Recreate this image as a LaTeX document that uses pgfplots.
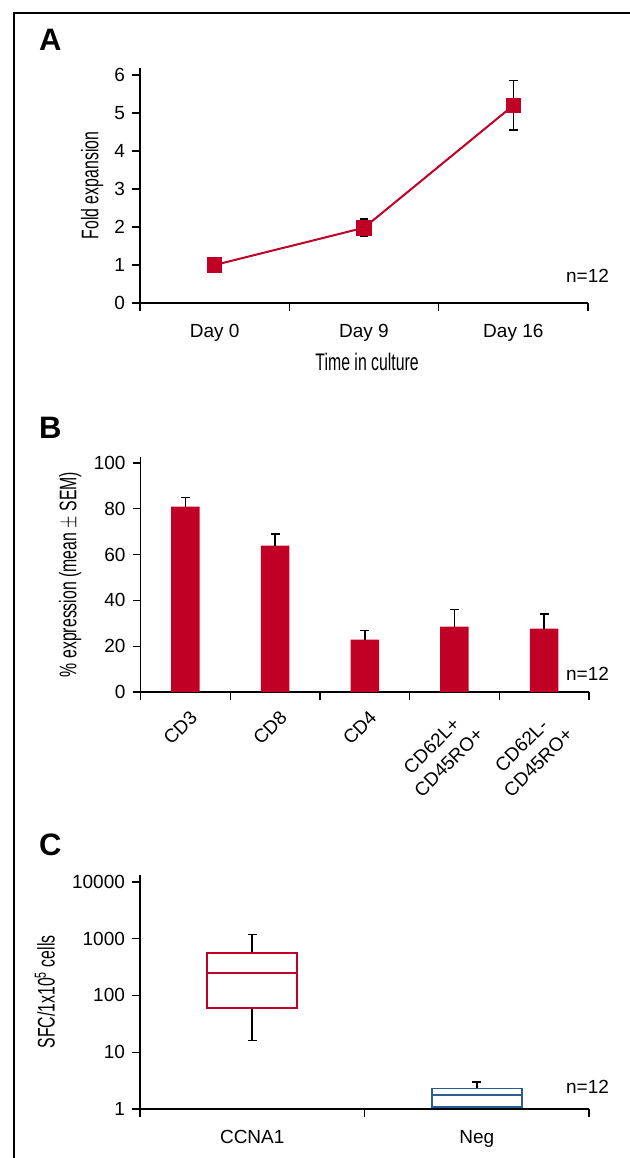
\documentclass[border=0pt]{standalone}
\usepackage{pgfplots}
\pgfplotsset{compat=1.18}
\usepackage{fontspec}
\setmainfont{Liberation Sans}
\definecolor{cred}{RGB}{192,0,37}
\definecolor{cblue}{RGB}{43,92,148}
\newcommand{\cond}[1]{\scalebox{0.66}[1]{#1}}
\pgfplotsset{
  panel/.style={
    scale only axis,
    axis lines=left,
    axis line style={line width=0.8pt,-},
    tick style={line width=0.7pt,black},
    tick align=outside,
    major tick length=4pt,
    minor tick length=4pt,
    major x tick style={draw=none},
    ticklabel style={font=\fontsize{9.5}{11}\selectfont},
    xticklabel style={yshift=-3pt},
    /pgf/number format/assume math mode=true,
    xtick pos=bottom, ytick pos=left,
    clip=false,
    label style={font=\fontsize{12}{14}\selectfont},
  },
}
\begin{document}
\begin{tikzpicture}
\path[use as bounding box] (0,0) rectangle (314.5pt,-579pt);
\draw[line width=1pt] (7pt,-580pt) -- (7pt,-6.5pt) -- (315pt,-6.5pt);
\node[anchor=base west,font=\bfseries\fontsize{15.5}{17}\selectfont] at (16pt,-25pt) {A};
\node[anchor=base west,font=\bfseries\fontsize{15.5}{17}\selectfont] at (16pt,-219pt) {B};
\node[anchor=base west,font=\bfseries\fontsize{15.5}{17}\selectfont] at (16pt,-427.5pt) {C};
\node[anchor=base east,font=\fontsize{9.5}{11}\selectfont] at (308pt,-141pt) {n=12};
\node[anchor=base east,font=\fontsize{9.5}{11}\selectfont] at (308pt,-340pt) {n=12};
\node[anchor=base east,font=\fontsize{9.5}{11}\selectfont] at (308pt,-546.5pt) {n=12};

% Panel A
\begin{axis}[panel,
  at={(70pt,-151.5pt)}, anchor=south west,
  width=224pt, height=117.5pt,
  xmin=-0.5, xmax=2.5, ymin=0, ymax=6.184,
  xtick={0,1,2}, xticklabels={Day 0,Day 9,Day 16},
  minor xtick={-0.5,0.5,1.5,2.5},
  ytick={0,1,2,3,4,5,6},
  xlabel={\cond{Time in culture}},
  ylabel={\cond{Fold expansion}},
  xlabel style={at={(axis description cs:0.507,-0.25)},anchor=center},
  ylabel style={at={(axis description cs:-0.107,0.5)},anchor=center},
]
\addplot[cred, line width=1pt, mark=square*, mark size=3.4pt,
  error bars/.cd, y dir=both, y explicit,
  error bar style={black,line width=0.7pt},
  error mark options={rotate=90,black,mark size=2.2pt,line width=0.7pt}]
  coordinates {(0,1.0) +- (0,0) (1,1.98) +- (0,0.23) (2,5.2) +- (0,0.65)};
\end{axis}

% Panel B
\begin{axis}[panel,
  at={(70.3pt,-346pt)}, anchor=south west,
  width=224.2pt, height=117.5pt,
  xmin=-0.5, xmax=4.5, ymin=0, ymax=102.6,
  xtick={0,1,2,3,4},
  xticklabels={CD3,CD8,CD4,{CD62L+\\CD45RO+},{CD62L-\\CD45RO+}},
  xticklabel style={rotate=45,anchor=north east,align=center,xshift=3.5pt,yshift=1pt,
    font=\fontsize{9.5}{12}\selectfont},
  minor xtick={-0.5,0.5,1.5,2.5,3.5,4.5},
  ytick={0,20,40,60,80,100},
  ylabel={\cond{\% expression (mean $\pm$ SEM)}},
  ylabel style={at={(axis description cs:-0.157,0.5)},anchor=center},
]
\addplot[ybar, bar width=0.318, fill=cred, draw=none,
  error bars/.cd, y dir=plus, y explicit,
  error bar style={black,line width=0.8pt},
  error mark options={rotate=90,black,mark size=2.2pt,line width=0.8pt}]
  coordinates {(0,80.9) +- (0,4.0) (1,63.9) +- (0,5.1) (2,22.9) +- (0,4.0) (3,28.5) +- (0,7.6) (4,27.7) +- (0,6.4)};
\end{axis}

% Panel C
\begin{axis}[panel,
  at={(70pt,-554.5pt)}, anchor=south west,
  width=224.5pt, height=117pt,
  ymode=log, ymin=1, ymax=13183,
  yminorticks=false,
  xmin=-0.5, xmax=1.5,
  xtick={0,1}, xticklabels={CCNA1,Neg},
  minor xtick={-0.5,0.5,1.5},
  ytick={1,10,100,1000,10000},
  yticklabels={1,10,100,1000,10000},
  ylabel={\cond{SFC/1x10\textsuperscript{5} cells}},
  ylabel style={at={(axis description cs:-0.212,0.5)},anchor=center},
]
% CCNA1 whiskers
\addplot[black, line width=0.8pt] coordinates {(0,566) (0,1188)};
\addplot[black, line width=0.8pt] coordinates {(-0.02,1188) (0.02,1188)};
\addplot[black, line width=0.8pt] coordinates {(0,59.5) (0,16)};
\addplot[black, line width=0.8pt] coordinates {(-0.02,16) (0.02,16)};
% CCNA1 box
\addplot[cred, line width=0.9pt, fill=white] coordinates {(-0.2,59.5) (0.2,59.5) (0.2,566) (-0.2,566) (-0.2,59.5)} -- cycle;
\addplot[cred, line width=0.9pt] coordinates {(-0.2,245) (0.2,245)};
% Neg whiskers
\addplot[black, line width=0.8pt] coordinates {(1,2.3) (1,2.98)};
\addplot[black, line width=0.8pt] coordinates {(0.98,2.98) (1.02,2.98)};
% Neg box
\addplot[cblue, line width=0.9pt, fill=white] coordinates {(0.8,1.1) (1.2,1.1) (1.2,2.3) (0.8,2.3) (0.8,1.1)} -- cycle;
\addplot[cblue, line width=0.9pt] coordinates {(0.8,1.74) (1.2,1.74)};
\end{axis}
\end{tikzpicture}
\end{document}
